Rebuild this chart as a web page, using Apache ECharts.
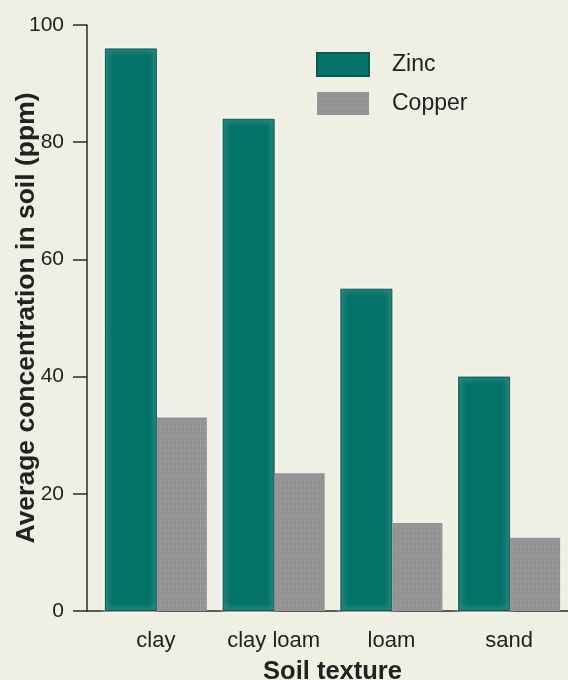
<!DOCTYPE html>
<html>
<head>
<meta charset="utf-8">
<script src="https://cdn.jsdelivr.net/npm/echarts@6/dist/echarts.min.js"></script>
<style>
  html, body { margin: 0; padding: 0; background: #eef0e3; }
  #chart { width: 568px; height: 680px; }
</style>
</head>
<body>
<div id="chart"></div>
<script>
const categories = ['clay', 'clay loam', 'loam', 'sand']
const zincValues = [96, 84, 55, 40]
const copperValues = [33, 23.5, 15, 12.5]
const yTicks = { min: 0, max: 100, interval: 20 }

const textColor = '#222'
const axisColor = '#2a2a2a'
const font = 'Liberation Sans, Arial, sans-serif'

const chart = echarts.init(document.getElementById('chart'))

const option = {
  backgroundColor: '#eef0e3',
  textStyle: { fontFamily: font },
  legend: {
    orient: 'vertical',
    left: 311,
    top: 47,
    itemWidth: 52,
    itemHeight: 23,
    itemGap: 15,
    icon: 'rect',
    textStyle: { fontSize: 23, color: textColor, padding: [0, 0, 0, 18] },
    data: ['Zinc', 'Copper']
  },
  grid: [
    // bars
    { left: 97, top: 25, width: 471, bottom: 69, containLabel: false, outerBoundsMode: 'none' },
    // only carries the bottom axis line from the y axis onward
    { left: 87, top: 25, width: 481, bottom: 69, containLabel: false, outerBoundsMode: 'none' }
  ],
  xAxis: [
    {
      type: 'category',
      gridIndex: 0,
      data: categories,
      axisLine: { show: false },
      axisTick: { show: false },
      axisLabel: { fontSize: 22, color: textColor, margin: 19, interval: 0, hideOverlap: false },
      name: 'Soil texture',
      nameLocation: 'middle',
      nameGap: 48,
      nameMoveOverlap: false,
      nameTextStyle: { fontSize: 25.5, fontWeight: 'bold', color: textColor }
    },
    {
      type: 'value',
      gridIndex: 1,
      axisLine: { show: true, lineStyle: { color: axisColor, width: 1.5 } },
      axisTick: { show: false },
      axisLabel: { show: false },
      splitLine: { show: false }
    }
  ],
  yAxis: [
    {
      type: 'value',
      gridIndex: 0,
      min: yTicks.min,
      max: yTicks.max,
      interval: yTicks.interval,
      offset: 10,
      axisLine: { show: true, lineStyle: { color: axisColor, width: 1.5 } },
      axisTick: { show: true, length: 14, lineStyle: { color: axisColor, width: 1.5 } },
      axisLabel: { fontSize: 21, color: textColor, margin: 23 },
      splitLine: { show: false },
      name: 'Average concentration in soil (ppm)',
      nameLocation: 'middle',
      nameGap: 47,
      nameMoveOverlap: false,
      nameTextStyle: { fontSize: 26.5, fontWeight: 'bold', color: textColor }
    },
    {
      type: 'value',
      gridIndex: 1,
      show: false
    }
  ],
  series: [
    {
      name: 'Zinc',
      type: 'bar',
      barWidth: 52,
      barGap: '0%',
      itemStyle: {
        color: '#03736a',
        borderColor: '#0b5a52',
        borderWidth: 1,
        shadowColor: 'rgba(255,252,240,0.9)',
        shadowBlur: 6
      },
      data: zincValues
    },
    {
      name: 'Copper',
      type: 'bar',
      barWidth: 50,
      barGap: '0%',
      itemStyle: {
        color: '#949292',
        decal: {
          symbol: 'rect',
          symbolSize: 1,
          color: 'rgba(190,190,190,0.35)',
          dashArrayX: [1, 3],
          dashArrayY: [2, 3],
          rotation: 0
        }
      },
      data: copperValues
    }
  ]
}

chart.setOption(option)
</script>
</body>
</html>
